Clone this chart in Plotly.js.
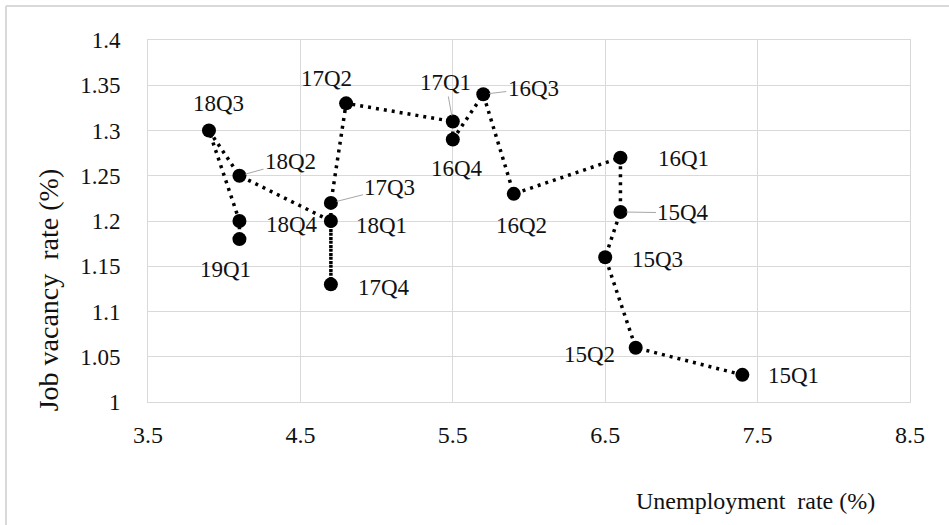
<!DOCTYPE html>
<html>
<head>
<meta charset="utf-8">
<script src="https://cdn.plot.ly/plotly-3.0.1.min.js"></script>
<style>
  html, body { margin: 0; padding: 0; background: #ffffff; }
  #chart { width: 949px; height: 525px; }
</style>
</head>
<body>
<div id="chart"></div>
<script>
// ---- data ----
var quarters = ["15Q1","15Q2","15Q3","15Q4","16Q1","16Q2","16Q3","16Q4",
                "17Q1","17Q2","17Q3","17Q4","18Q1","18Q2","18Q3","18Q4","19Q1"];
var unemploymentRate = [7.4, 6.7, 6.5, 6.6, 6.6, 5.9, 5.7, 5.5,
                        5.5, 4.8, 4.7, 4.7, 4.7, 4.1, 3.9, 4.1, 4.1];
var vacancyRate = [1.03, 1.06, 1.16, 1.21, 1.27, 1.23, 1.34, 1.29,
                   1.31, 1.33, 1.22, 1.13, 1.20, 1.25, 1.30, 1.20, 1.18];
var xTickValues = [3.5, 4.5, 5.5, 6.5, 7.5, 8.5];
var yTickValues = [1, 1.05, 1.1, 1.15, 1.2, 1.25, 1.3, 1.35, 1.4];
var yTickLabels = ["1", "1.05", "1.1", "1.15", "1.2", "1.25", "1.3", "1.35", "1.4"];

// ---- label placement (screen pixel offsets from each point; leader = Excel leader line) ----
var labelPlacement = {
  "15Q1": {dx: 51, dy: 1},   "15Q2": {dx: -46, dy: 7},  "15Q3": {dx: 52, dy: 2},
  "15Q4": {dx: 63, dy: 1, leader: true},                "16Q1": {dx: 63, dy: 1},
  "16Q2": {dx: 8, dy: 32},   "16Q3": {dx: 50, dy: -6, leader: true},
  "16Q4": {dx: 4, dy: 29},   "17Q1": {dx: -7, dy: -39, leader: true},
  "17Q2": {dx: -20, dy: -25},"17Q3": {dx: 59, dy: -15, leader: true},
  "17Q4": {dx: 53, dy: 3},   "18Q1": {dx: 51, dy: 4},
  "18Q2": {dx: 51, dy: -14, leader: true},             "18Q3": {dx: 10, dy: -27},
  "18Q4": {dx: 53, dy: 3},   "19Q1": {dx: -14, dy: 30}
};

var serif = "Liberation Serif";
var textColor = "#111111";
var gridColor = "#d9d9d9";

var trace = {
  type: "scatter",
  mode: "lines+markers",
  x: unemploymentRate,
  y: vacancyRate,
  line: {color: "#000000", width: 3.5, dash: "3px,5px"},
  marker: {color: "#000000", size: 14, symbol: "circle"},
  hoverinfo: "skip",
  showlegend: false
};

var annotations = quarters.map(function (q, i) {
  var p = labelPlacement[q];
  var a = {
    x: unemploymentRate[i], y: vacancyRate[i], xref: "x", yref: "y",
    text: q,
    font: {family: serif, size: 23, color: textColor}
  };
  if (p.leader) {
    a.showarrow = true;
    a.arrowhead = 0;
    a.arrowwidth = 1;
    a.arrowcolor = "#a6a6a6";
    a.standoff = 6;
    a.ax = p.dx; a.ay = p.dy;
  } else {
    a.showarrow = false;
    a.xshift = p.dx; a.yshift = -p.dy;
    a.xanchor = "center"; a.yanchor = "middle";
  }
  return a;
});

annotations.push({
  xref: "paper", yref: "paper", x: 0.797, y: -0.2735,
  xanchor: "center", yanchor: "middle",
  text: "Unemployment&nbsp; rate (%)", showarrow: false,
  font: {family: serif, size: 24, color: textColor}
});
annotations.push({
  xref: "paper", yref: "paper", x: -0.131, y: 0.309,
  xanchor: "center", yanchor: "middle",
  text: "Job vacancy&nbsp; rate (%)", showarrow: false, textangle: -90,
  font: {family: serif, size: 28, color: textColor}
});

var layout = {
  width: 949, height: 525,
  margin: {l: 148, r: 39, t: 40, b: 123},
  paper_bgcolor: "#ffffff",
  plot_bgcolor: "#ffffff",
  font: {family: serif},
  xaxis: {
    range: [3.5, 8.5],
    tickvals: xTickValues,
    ticktext: xTickValues.map(function (v) { return v.toFixed(1); }),
    showgrid: true, gridcolor: gridColor, gridwidth: 1,
    zeroline: false, showline: true, linecolor: gridColor, linewidth: 1, mirror: true,
    ticks: "", ticklabelstandoff: 11,
    tickfont: {family: serif, size: 24, color: textColor}
  },
  yaxis: {
    range: [1, 1.4],
    tickvals: yTickValues,
    ticktext: yTickLabels,
    showgrid: true, gridcolor: gridColor, gridwidth: 1,
    zeroline: false, showline: true, linecolor: gridColor, linewidth: 1, mirror: true,
    ticks: "", ticklabelstandoff: 22,
    tickfont: {family: serif, size: 23, color: textColor}
  },
  annotations: annotations,
  shapes: [
    {type: "line", xref: "paper", yref: "paper", x0: -0.1864, x1: 1.06, y0: 1.094, y1: 1.094,
     line: {color: gridColor, width: 2}},
    {type: "line", xref: "paper", yref: "paper", x0: -0.1864, x1: -0.1864, y0: 1.094, y1: -0.36,
     line: {color: gridColor, width: 2}}
  ]
};

Plotly.newPlot("chart", [trace], layout, {staticPlot: true, displayModeBar: false});
</script>
</body>
</html>
